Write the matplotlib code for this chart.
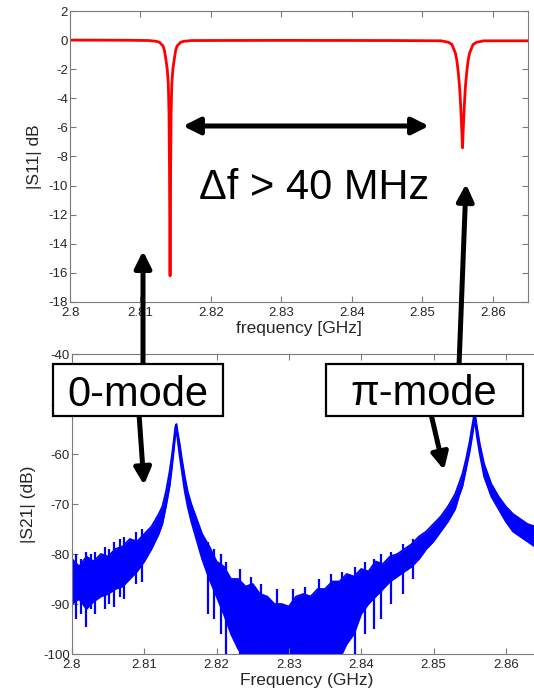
import matplotlib
matplotlib.use("Agg")
import matplotlib.pyplot as plt
from matplotlib.patches import FancyArrowPatch, Rectangle

plt.rcParams['font.family'] = ['Liberation Sans', 'DejaVu Sans']
plt.rcParams['axes.unicode_minus'] = False

# |S11| (top panel)
s11_freq = [2.8000, 2.8080, 2.8112, 2.8122, 2.8127, 2.8132, 2.8134, 2.8136, 2.8138,
            2.81395, 2.81405, 2.81412, 2.81416, 2.8142, 2.81424, 2.81428, 2.81435,
            2.81445, 2.8146, 2.8148, 2.8150, 2.8152, 2.8157, 2.8162, 2.8172,
            2.8300, 2.8460, 2.8527, 2.8537, 2.8542, 2.8547, 2.8549, 2.8551, 2.8553,
            2.85545, 2.85558, 2.8557, 2.85582, 2.85595, 2.8561, 2.8563, 2.8565,
            2.8567, 2.8572, 2.8577, 2.8587, 2.8650]
s11_db = [0.0, -0.01, -0.03, -0.08, -0.15, -0.4, -0.7, -1.3, -2.0,
          -3.0, -5.0, -9.0, -13.0, -16.2, -13.0, -9.0, -5.0,
          -3.0, -2.0, -1.3, -0.7, -0.4, -0.15, -0.08, -0.03,
          -0.02, -0.03, -0.05, -0.15, -0.3, -0.9, -1.4, -2.2, -3.3,
          -4.6, -6.0, -7.4, -6.0, -4.6, -3.3, -2.2, -1.4,
          -0.9, -0.3, -0.15, -0.05, -0.05]

# |S21| (bottom panel): upper and lower edge of the noisy trace
s21_freq = [2.800, 2.801, 2.802, 2.803, 2.804, 2.805, 2.806, 2.807, 2.808, 2.809,
            2.810, 2.811, 2.812, 2.8125, 2.813, 2.8135, 2.8138, 2.8141, 2.8143,
            2.81445, 2.8146, 2.8149, 2.8152, 2.8156, 2.816, 2.8165, 2.817, 2.818,
            2.819, 2.820, 2.821, 2.822, 2.823, 2.824, 2.825, 2.826, 2.827, 2.828,
            2.829, 2.830, 2.831, 2.832, 2.833, 2.834, 2.835, 2.836, 2.837, 2.838,
            2.839, 2.840, 2.841, 2.842, 2.843, 2.844, 2.845, 2.846, 2.847, 2.848,
            2.849, 2.850, 2.851, 2.852, 2.853, 2.8535, 2.854, 2.8545, 2.855,
            2.8554, 2.8557, 2.856, 2.8564, 2.857, 2.8575, 2.858, 2.859, 2.860,
            2.861, 2.862, 2.863, 2.864, 2.865]
s21_hi = [-81.0, -82.5, -80.5, -81.5, -80.0, -80.5, -79.0, -78.5, -77.0, -77.5,
          -76.0, -74.5, -72.0, -70.5, -67.5, -63.5, -60.5, -57.0, -54.5,
          -54.0, -55.5, -58.0, -61.0, -64.5, -67.5, -70.0, -72.0, -76.0,
          -78.5, -81.5, -82.5, -85.0, -85.0, -86.5, -86.0, -88.0, -88.5, -90.0,
          -90.0, -90.5, -88.5, -88.0, -88.5, -87.0, -87.0, -85.5, -85.5, -84.0,
          -84.5, -83.0, -83.5, -81.5, -82.0, -80.5, -80.0, -79.0, -78.0, -76.5,
          -75.5, -74.0, -72.5, -70.5, -68.0, -66.0, -64.0, -61.0, -57.5,
          -54.0, -51.5, -54.5, -58.0, -62.0, -64.0, -66.0, -68.5, -70.5,
          -72.0, -73.0, -74.0, -74.5, -75.5]
s21_lo = [-90.0, -89.0, -91.0, -89.5, -88.5, -88.0, -87.0, -86.5, -85.0, -83.5,
          -81.5, -79.0, -76.0, -74.0, -70.5, -66.5, -63.0, -59.0, -56.0,
          -55.5, -57.0, -60.5, -63.5, -67.5, -70.5, -73.5, -76.0, -81.0,
          -85.0, -88.5, -92.0, -96.0, -99.0, -101, -102, -102, -102, -102,
          -102, -102, -102, -102, -102, -102, -102, -102, -101, -98.0,
          -96.0, -92.0, -90.0, -88.5, -87.0, -85.5, -84.5, -83.5, -82.5, -81.0,
          -79.0, -77.5, -75.5, -73.5, -71.0, -68.5, -66.5, -63.0, -59.5,
          -56.0, -53.0, -56.5, -60.0, -64.5, -66.5, -68.5, -71.0, -73.5,
          -75.5, -76.5, -77.5, -78.5, -80.0]

# single noise spikes (frequency, top, bottom)
spike_freq = [2.8006, 2.8013, 2.8019, 2.8026, 2.8032, 2.8045, 2.8051, 2.8058,
              2.8066, 2.8072, 2.8088, 2.8097, 2.8188, 2.8196, 2.8206, 2.8213,
              2.8232, 2.8247, 2.8262, 2.8284, 2.8306, 2.8322, 2.8342, 2.8358,
              2.8373, 2.8392, 2.8405, 2.8418, 2.8428, 2.8441, 2.8458, 2.8472]
spike_top = [-80.0, -81.0, -79.5, -80.0, -79.5, -78.5, -79.0, -77.5,
             -77.0, -76.5, -75.5, -75.0, -77.5, -79.0, -80.0, -81.5,
             -83.0, -84.5, -86.0, -87.0, -87.0, -86.5, -85.0, -84.0,
             -83.5, -82.5, -81.5, -81.0, -80.0, -79.5, -78.0, -77.0]
spike_bot = [-93.0, -92.0, -94.5, -91.0, -92.0, -91.0, -90.0, -90.5,
             -88.5, -89.0, -86.0, -85.5, -92.0, -93.0, -96.0, -100,
             -100, -100, -100, -100, -100, -100, -100, -100,
             -100, -100, -96.0, -95.0, -93.0, -90.0, -88.0, -85.0]

freq_ticks = [2.8, 2.81, 2.82, 2.83, 2.84, 2.85, 2.86]
freq_labels = ['2.8', '2.81', '2.82', '2.83', '2.84', '2.85', '2.86']

spine_c = '#7a7a7a'
text_c = '#262626'

fig = plt.figure(figsize=(5.34, 6.92), dpi=100)
ax1 = fig.add_axes([0.1311, 0.5636, 0.8577, 0.4205])
ax2 = fig.add_axes([0.1348, 0.0549, 0.8801, 0.4335])

ax1.plot(s11_freq, s11_db, color='red', lw=2)
ax1.set_xlim(2.8, 2.865)
ax1.set_ylim(-18, 2)
ax1.set_xticks(freq_ticks)
ax1.set_xticklabels(freq_labels)
ax1.set_yticks(range(-18, 3, 2))
ax1.set_xlabel('frequency [GHz]', fontsize=12.5, color=text_c)
ax1.set_ylabel('|S11| dB', fontsize=12.5, color=text_c)
ax1.xaxis.set_label_coords(0.5, -0.066)
ax1.yaxis.set_label_coords(-0.061, 0.5)

ax2.fill_between(s21_freq, s21_lo, s21_hi, color='blue', lw=0)
ax2.plot(s21_freq, s21_hi, color='blue', lw=1.3)
ax2.plot(s21_freq, s21_lo, color='blue', lw=1.3)
ax2.vlines(spike_freq, spike_bot, spike_top, color='blue', lw=1.6)
ax2.set_xlim(2.8, 2.865)
ax2.set_ylim(-100, -40)
ax2.set_xticks(freq_ticks)
ax2.set_xticklabels(freq_labels)
ax2.set_yticks(range(-100, -39, 10))
ax2.set_xlabel('Frequency (GHz)', fontsize=12.5, color=text_c)
ax2.set_ylabel('|S21| (dB)', fontsize=12.5, color=text_c)
ax2.xaxis.set_label_coords(0.5, -0.062)
ax2.yaxis.set_label_coords(-0.077, 0.5)

for ax in (ax1, ax2):
    for s in ax.spines.values():
        s.set_color(spine_c)
    ax.tick_params(direction='in', top=True, right=True, length=4,
                   color=spine_c, labelsize=9.5, labelcolor=text_c)
    ax.tick_params(axis='x', pad=3.5)
    ax.tick_params(axis='y', pad=1.5)

W, H = 534.0, 692.0


def px(x, y):
    return (x / W, 1 - y / H)


def arrow(x0, y0, x1, y1, style='-|>'):
    a = FancyArrowPatch(px(x0, y0), px(x1, y1), transform=fig.transFigure,
                        arrowstyle=style + ',head_length=0.5,head_width=0.25',
                        mutation_scale=20, lw=3.6, color='black',
                        shrinkA=0, shrinkB=0, zorder=10)
    fig.add_artist(a)


def label_box(x0, y0, x1, y1, txt, tx, ty):
    r = Rectangle(px(x0, y1), (x1 - x0) / W, (y1 - y0) / H,
                  transform=fig.transFigure, fc='white', ec='black', lw=1.6,
                  zorder=11)
    fig.add_artist(r)
    fig.text(tx / W, 1 - ty / H, txt, fontsize=30, ha='center', va='baseline',
             zorder=12)


arrow(183, 126, 429, 126, style='<|-|>')
fig.text(314 / W, 1 - 199 / H, '\u0394f > 40 MHz', fontsize=30,
         ha='center', va='baseline', zorder=12)

arrow(143, 366, 143, 251)
arrow(459, 366, 466, 184)
arrow(139, 414, 144, 485)
arrow(431, 414, 444, 470)

label_box(53, 364, 223, 416, '0-mode', 138, 406)
label_box(326, 364, 523, 416, '\u03c0-mode', 424, 405)

fig.savefig('out.png', dpi=100)
